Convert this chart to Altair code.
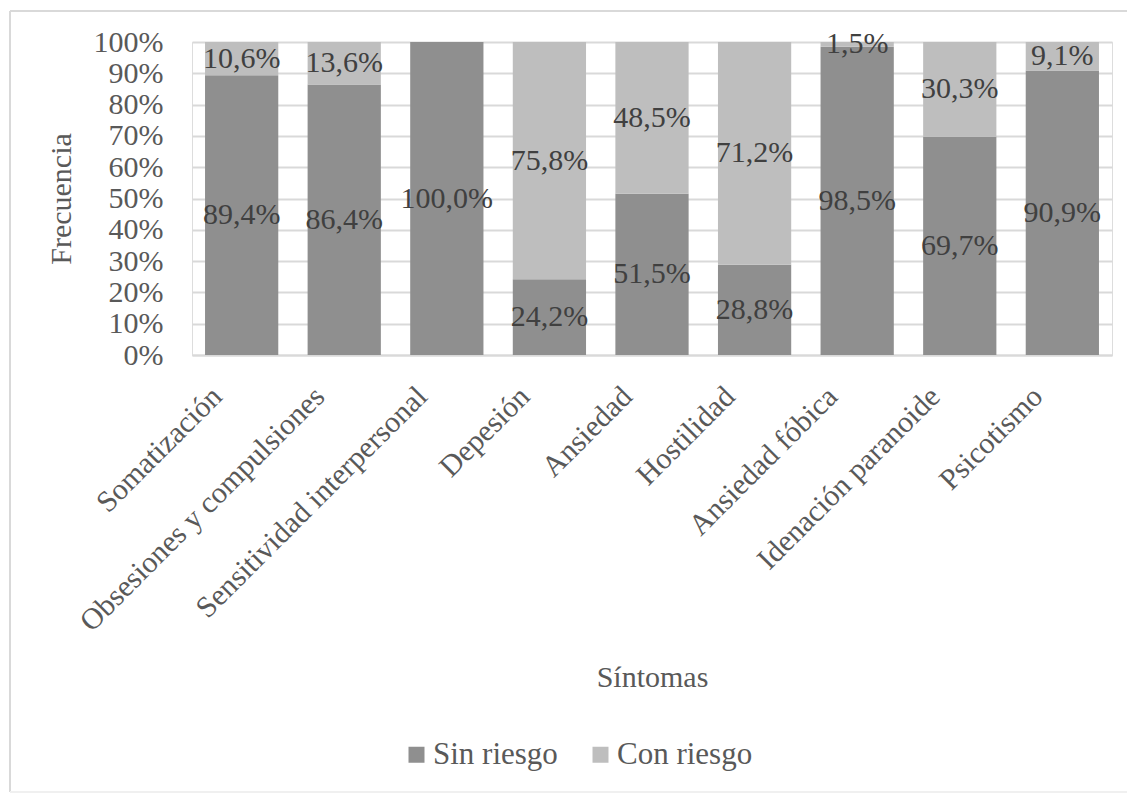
import altair as alt
import pandas as pd

# Symptom categories (SCL-90 dimensions) and the share of each risk group, in percent
sintomas = [
    "Somatización",
    "Obsesiones y compulsiones",
    "Sensitividad interpersonal",
    "Depesión",
    "Ansiedad",
    "Hostilidad",
    "Ansiedad fóbica",
    "Idenación paranoide",
    "Psicotismo",
]
sin_riesgo = [89.4, 86.4, 100.0, 24.2, 51.5, 28.8, 98.5, 69.7, 90.9]
con_riesgo = [10.6, 13.6, 0.0, 75.8, 48.5, 71.2, 1.5, 30.3, 9.1]
grupos = ["Sin riesgo", "Con riesgo"]
colores = ["#8f8f8f", "#bebebe"]
y_ticks = list(range(0, 101, 10))

rows = []
for s, a, b in zip(sintomas, sin_riesgo, con_riesgo):
    rows.append({"Síntomas": s, "Grupo": grupos[0], "orden": 0, "valor": a})
    rows.append({"Síntomas": s, "Grupo": grupos[1], "orden": 1, "valor": b})
df = pd.DataFrame(rows)
df["etiqueta"] = df["valor"].map(lambda v: f"{v:.1f}%".replace(".", ","))

FONT = "Liberation Serif"
W, H = 920, 313

base = alt.Chart(df).transform_stack(
    stack="valor",
    groupby=["Síntomas"],
    as_=["y0", "y1"],
    sort=[alt.SortField("orden", order="ascending")],
)

x_scale = alt.Scale(paddingInner=0.286, paddingOuter=0.127)
x_axis = alt.Axis(
    title="Síntomas",
    labelAngle=-45,
    labelAlign="right",
    labelBaseline="top",
    labelPadding=26,
    labelOffset=-35,
    labelFont=FONT,
    labelFontSize=30,
    labelColor="#595959",
    labelLimit=0,
    labelOverlap=False,
    ticks=False,
    domainColor="#d9d9d9",
    domainWidth=2,
    titleFont=FONT,
    titleFontSize=30,
    titleFontWeight="normal",
    titleColor="#595959",
    titleY=322,
    titleBaseline="middle",
)

y_scale = alt.Scale(domain=[0, 100], nice=False)
y_axis = alt.Axis(
    title="Frecuencia",
    values=y_ticks,
    tickCount=11,
    labelExpr="datum.value + '%'",
    labelFont=FONT,
    labelFontSize=30,
    labelColor="#595959",
    labelPadding=29,
    labelOverlap=False,
    labelFlush=False,
    ticks=False,
    domain=False,
    gridColor="#d9d9d9",
    gridWidth=2,
    titleFont=FONT,
    titleFontSize=30,
    titleFontWeight="normal",
    titleColor="#595959",
    titleX=-131,
    titleBaseline="middle",
)

bars = base.mark_bar().encode(
    x=alt.X("Síntomas:N", sort=sintomas, scale=x_scale, axis=x_axis),
    y=alt.Y("y0:Q", scale=y_scale, axis=y_axis),
    y2="y1:Q",
    color=alt.Color(
        "Grupo:N",
        scale=alt.Scale(domain=grupos, range=colores),
        legend=alt.Legend(
            title=None,
            orient="none",
            direction="horizontal",
            legendX=209,
            legendY=697,
            symbolType="square",
            symbolSize=256,
            symbolStrokeWidth=0,
            labelFont=FONT,
            labelFontSize=31,
            labelColor="#595959",
            labelOffset=1,
            columnPadding=27,
            padding=0,
        ),
    ),
)

labels = (
    base.transform_filter("datum.valor > 0")
    .transform_calculate(mid="(datum.y0 + datum.y1) / 2")
    .mark_text(font=FONT, fontSize=30, color="#404040", baseline="middle")
    .encode(
        x=alt.X("Síntomas:N", sort=sintomas, scale=x_scale, axis=x_axis),
        y=alt.Y("mid:Q", scale=y_scale, axis=y_axis),
        text="etiqueta:N",
    )
)

# light frame around the whole figure
frame_left = alt.Chart(df).mark_rule(color="#d9d9d9", strokeWidth=2).encode(
    x=alt.value(-182), y=alt.value(-31), y2=alt.value(750)
)
frame_top = alt.Chart(df).mark_rule(color="#d9d9d9", strokeWidth=2).encode(
    x=alt.value(-182), x2=alt.value(940), y=alt.value(-31)
)
frame_bottom = alt.Chart(df).mark_rule(color="#f0f0f0", strokeWidth=2).encode(
    x=alt.value(-182), x2=alt.value(940), y=alt.value(750)
)

chart = (
    alt.layer(bars, labels, frame_left, frame_top, frame_bottom)
    .properties(
        width=W,
        height=H,
        autosize=alt.AutoSizeParams(type="none"),
        padding={"left": 192, "top": 42, "right": 15, "bottom": 439},
    )
    .configure_view(stroke=None)
    .configure_legend(labelFont=FONT)
    .configure(background="white")
)

chart.save("out.html", embed_options={"renderer": "svg", "actions": False})
